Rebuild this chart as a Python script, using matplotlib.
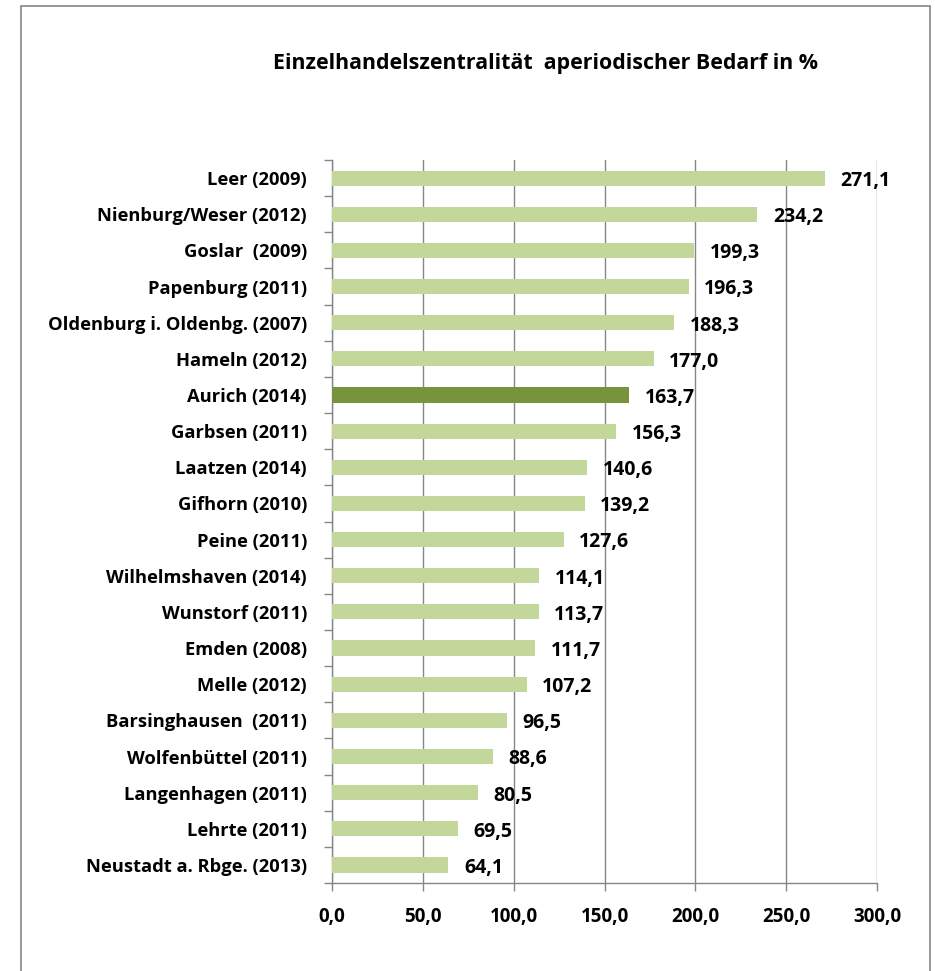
import numpy as np
import matplotlib
matplotlib.use("Agg")
import matplotlib.pyplot as plt
from matplotlib.patches import Rectangle

cities = ["Leer (2009)", "Nienburg/Weser (2012)", "Goslar  (2009)", "Papenburg (2011)",
          "Oldenburg i. Oldenbg. (2007)", "Hameln (2012)", "Aurich (2014)",
          "Garbsen (2011)", "Laatzen (2014)", "Gifhorn (2010)", "Peine (2011)",
          "Wilhelmshaven (2014)", "Wunstorf (2011)", "Emden (2008)", "Melle (2012)",
          "Barsinghausen  (2011)", "Wolfenbüttel (2011)", "Langenhagen (2011)",
          "Lehrte (2011)", "Neustadt a. Rbge. (2013)"]
values = [271.1, 234.2, 199.3, 196.3, 188.3, 177.0, 163.7, 156.3, 140.6, 139.2,
          127.6, 114.1, 113.7, 111.7, 107.2, 96.5, 88.6, 80.5, 69.5, 64.1]
highlight = "Aurich (2014)"
xticks = [0, 50, 100, 150, 200, 250, 300]

C_LIGHT = "#C4D79B"
C_DARK = "#77933C"
C_AX = "#868686"
FONT = ["Open Sans", "DejaVu Sans"]

plt.rcParams["font.family"] = FONT
plt.rcParams["font.weight"] = "bold"

fig = plt.figure(figsize=(9.35, 9.71), dpi=100)
ax = fig.add_axes([0.3551, 0.0906, 0.938 - 0.3551, 0.8352 - 0.0906])

n = len(cities)
y = np.arange(n)[::-1]
colors = [C_DARK if c == highlight else C_LIGHT for c in cities]
ax.barh(y, values, height=0.42, color=colors, zorder=3)

for yi, v in zip(y, values):
    ax.text(v + 8.5, yi - 0.08, f"{v:.1f}".replace(".", ","), ha="left",
            va="center", fontsize=14, fontweight="bold", zorder=4)

ax.set_xlim(0, 300)
ax.set_ylim(-0.5, n - 0.5)
ax.set_xticks(xticks)
ax.set_xticklabels([f"{t:.1f}".replace(".", ",") for t in xticks],
                   fontsize=13.5, fontweight="bold")
ax.set_yticks(y)
ax.set_yticklabels(cities, fontsize=13.2, fontweight="bold")
ax.set_yticks(np.arange(-0.5, n, 1.0), minor=True)
ax.tick_params(axis="y", which="major", length=0, pad=18)
ax.tick_params(axis="y", which="minor", length=6, color=C_AX, width=1)
ax.tick_params(axis="x", length=6, color=C_AX, width=1, pad=11)
ax.grid(axis="x", color=C_AX, lw=1, zorder=0)
for s in ("top", "right"):
    ax.spines[s].set_visible(False)
for s in ("left", "bottom"):
    ax.spines[s].set_color(C_AX)
    ax.spines[s].set_linewidth(1)

fig.text(0.583, 0.935, "Einzelhandelszentralität  aperiodischer Bedarf in %",
         ha="center", va="center", fontsize=15.4, fontweight="bold")

fig.patches.append(Rectangle((21 / 935, -0.01), (930 - 21) / 935, 1 - 6 / 971 + 0.01,
                             transform=fig.transFigure, fill=False,
                             edgecolor=C_AX, lw=1.2))

fig.savefig("out.png", dpi=100)
